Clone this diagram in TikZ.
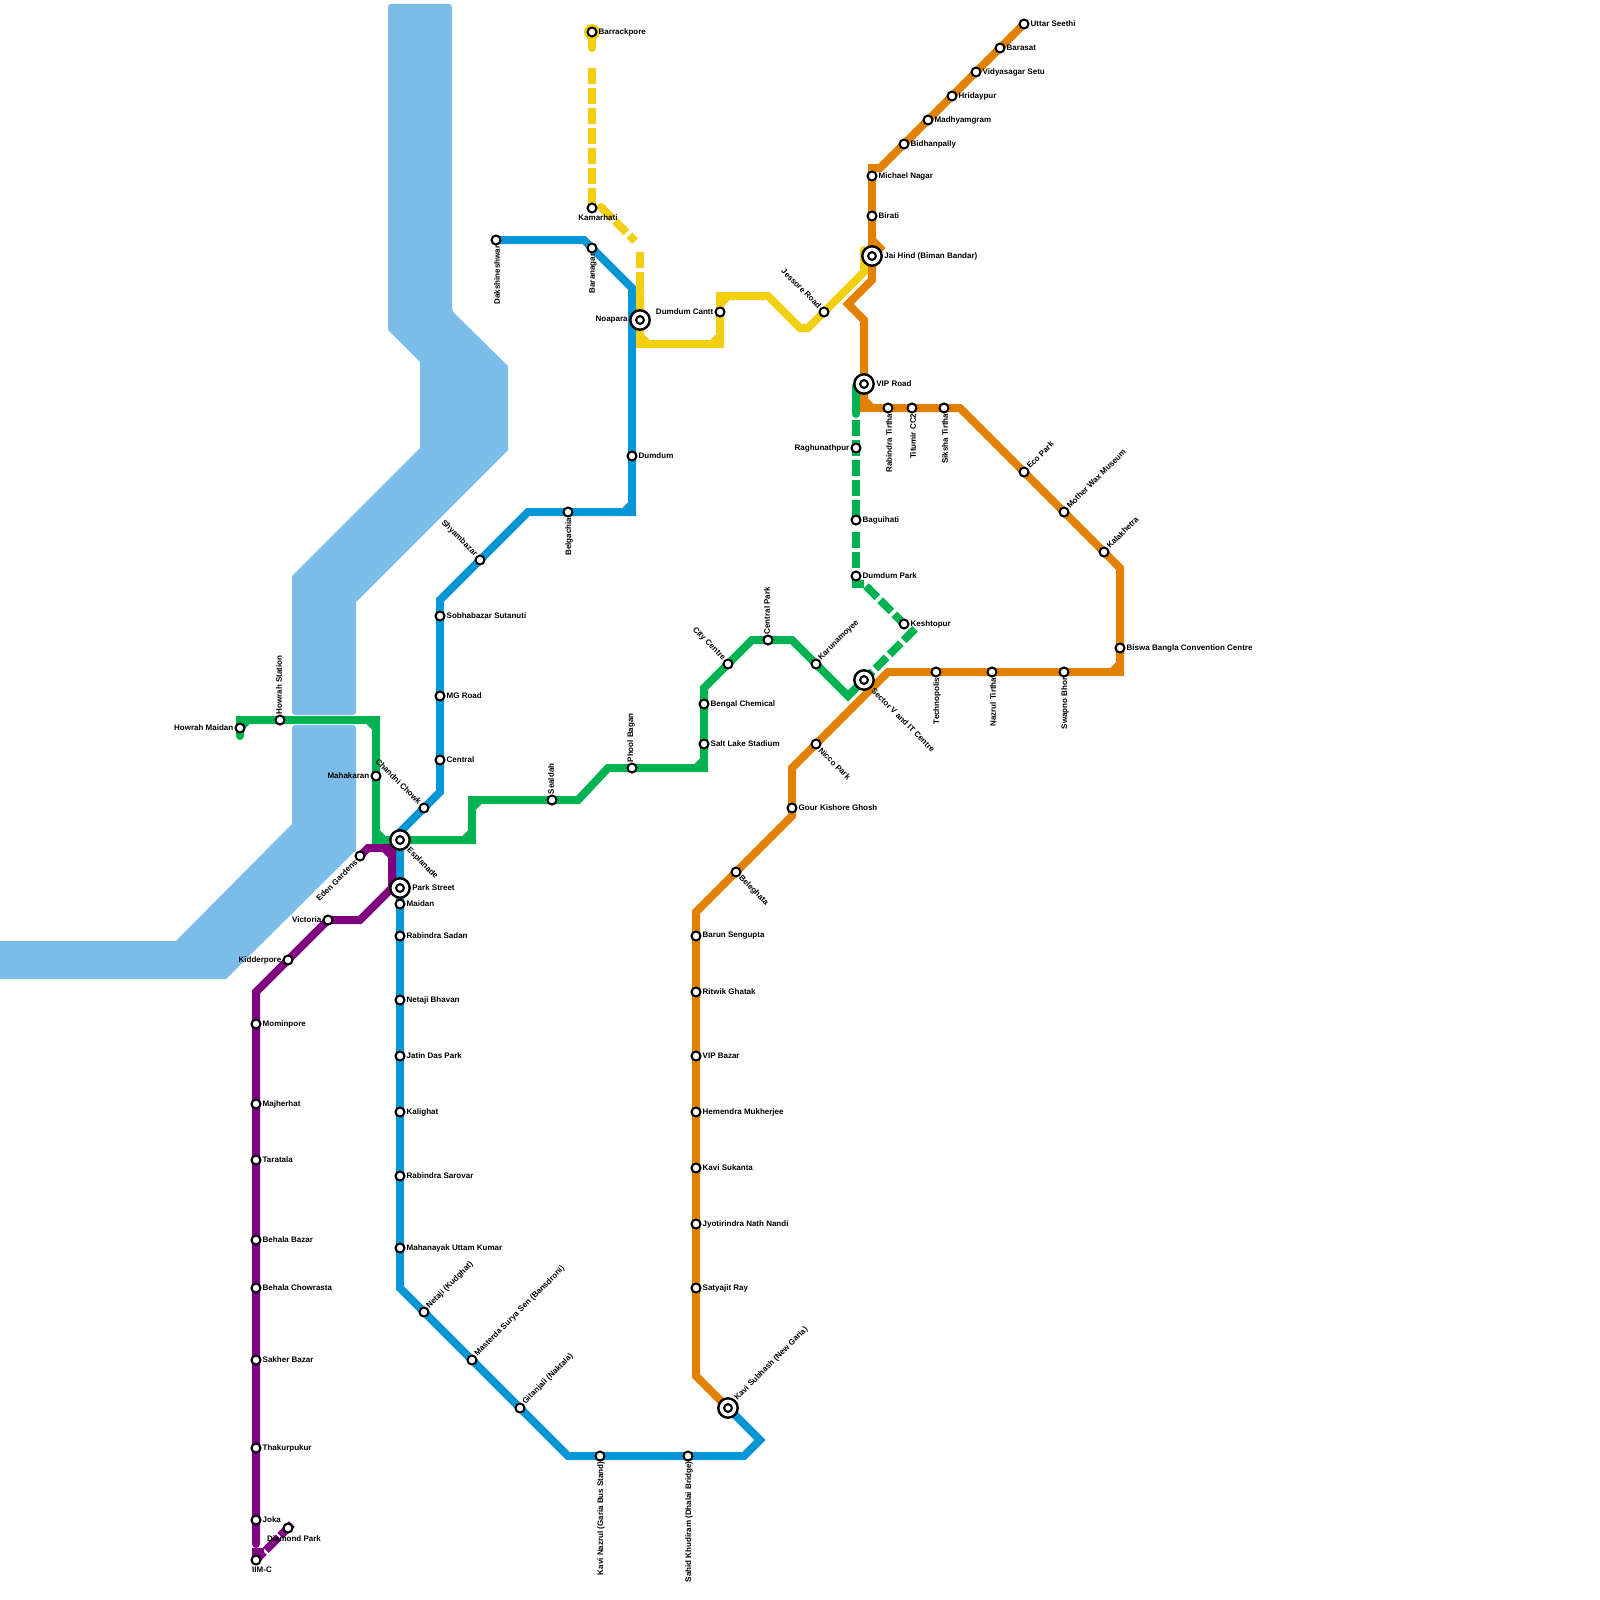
\documentclass[tikz,border=0pt]{standalone}
\usepackage{fontspec}
\setmainfont{Liberation Sans}
\usetikzlibrary{backgrounds}
\definecolor{rivercol}{HTML}{7BBDE8}
\definecolor{bluecol}{HTML}{0896D7}
\definecolor{greencol}{HTML}{00B251}
\definecolor{purplecol}{HTML}{800080}
\definecolor{orangecol}{HTML}{E08200}
\definecolor{yellowcol}{HTML}{F2CF12}
\tikzset{
  stn/.style={circle,draw=black,fill=white,line width=2pt,minimum size=9pt,inner sep=0pt},
  ichange/.style={circle,draw=black,fill=white,line width=2.4pt,minimum size=19.4pt,outer sep=1.5pt,inner sep=0pt,
    path picture={\draw[line width=2pt] (path picture bounding box.center) circle (3.9);}},
  lab/.style={font=\fontsize{8}{9}\selectfont\bfseries,inner sep=0pt,label distance=1pt},
  lr/.style={label={[lab,anchor=west]right:#1}},
  ll/.style={label={[lab,anchor=east]left:#1}},
  lb/.style={label={[lab,rotate=90,anchor=east]below:#1}},
  la/.style={label={[lab,rotate=90,anchor=west]above:#1}},
  lne/.style={label={[lab,rotate=45,anchor=west]45:#1}},
  lnw/.style={label={[lab,rotate=-45,anchor=east]135:#1}},
  lse/.style={label={[lab,rotate=-45,anchor=west]-45:#1}},
  lsw/.style={label={[lab,rotate=45,anchor=east]225:#1}},
  line/.style={line width=8pt,line cap=round},
  gappy/.style={line width=8pt,line cap=butt,dash pattern=on 16pt off 4pt},
}
\begin{document}
\begin{tikzpicture}[x=1pt,y=-1pt]
  \useasboundingbox (0,0) rectangle (1600,1600);
  % blue line
  \node[stn,lb=Dakshineshwar] (Dak) at (496,240) {};
  \node[stn,lb=Baranagar] (Bar) at (592,248) {};
  \node[ichange,ll=Noapara] (Noa) at (640,320) {};
  \node[stn,lr=Dumdum] (Dum) at (632,456) {};
  \node[stn,lb=Belgachia] (Bel) at (568,512) {};
  \node[stn,lnw=Shyambazar] (Shy) at (480,560) {};
  \node[stn,lr=Sobhabazar Sutanuti] (Sob) at (440,616) {};
  \node[stn,lr=MG Road] (MGR) at (440,696) {};
  \node[stn,lr=Central] (Cen) at (440,760) {};
  \node[stn,lnw=Chandni Chowk] (Cha) at (424,808) {};
  \node[ichange,lse=Esplanade] (Esp) at (400,840) {};
  \node[ichange,lr=Park Street] (Par) at (400,888) {};
  \node[stn,lr=Maidan] (Mai) at (400,904) {};
  \node[stn,lr=Rabindra Sadan] (RSa) at (400,936) {};
  \node[stn,lr=Netaji Bhavan] (NBh) at (400,1000) {};
  \node[stn,lr=Jatin Das Park] (Jat) at (400,1056) {};
  \node[stn,lr=Kalighat] (Kal) at (400,1112) {};
  \node[stn,lr=Rabindra Sarovar] (RSr) at (400,1176) {};
  \node[stn,lr=Mahanayak Uttam Kumar] (Mah) at (400,1248) {};
  \node[stn,lne=Netaji (Kudghat)] (Net) at (424,1312) {};
  \node[stn,lne=Masterda Surya Sen (Bansdroni)] (Mas) at (472,1360) {};
  \node[stn,lne=Gitanjali (Naktala)] (Git) at (520,1408) {};
  \node[stn,lb=Kavi Nazrul (Garia Bus Stand)] (KNa) at (600,1456) {};
  \node[stn,lb=Sahid Khudiram (Dhalai Bridge)] (Sah) at (688,1456) {};
  \node[ichange,lne=Kavi Subhash (New Garia)] (KSu) at (728,1408) {};
  % yellow line
  \node[stn,lr=Barrackpore] (Brk) at (592,32) {};
  \node[stn,label={[lab,anchor=north,xshift=6pt]below:Kamarhati}] (Kam) at (592,208) {};
  \node[stn,ll=Dumdum Cantt] (DCa) at (720,312) {};
  \node[stn,lnw=Jessore Road] (Jes) at (824,312) {};
  % green line
  \node[stn,ll=Howrah Maidan] (HMa) at (240,728) {};
  \node[stn,la=Howrah Station] (HSt) at (280,720) {};
  \node[stn,ll=Mahakaran] (Mhk) at (376,776) {};
  \node[stn,la=Sealdah] (Sea) at (552,800) {};
  \node[stn,la=Phool Bagan] (Pho) at (632,768) {};
  \node[stn,lr=Salt Lake Stadium] (Sal) at (704,744) {};
  \node[stn,lr=Bengal Chemical] (Ben) at (704,704) {};
  \node[stn,lnw=City Centre] (Cit) at (728,664) {};
  \node[stn,la=Central Park] (CPa) at (768,640) {};
  \node[stn,lne=Karunamoyee] (Kar) at (816,664) {};
  \node[ichange,label={[lab,rotate=-45,anchor=west,xshift=1pt]-45:Sector V and IT Centre}] (Sec) at (864,680) {};
  \node[stn,lr=Keshtopur] (Kes) at (904,624) {};
  \node[stn,lr=Dumdum Park] (DPa) at (856,576) {};
  \node[stn,lr=Baguihati] (Bag) at (856,520) {};
  \node[stn,ll=Raghunathpur] (Rag) at (856,448) {};
  \node[ichange,lr=VIP Road] (VIP) at (864,384) {};
  % orange line
  \node[stn,lr=Uttar Seethi] (Utt) at (1024,24) {};
  \node[stn,lr=Barasat] (Bas) at (1000,48) {};
  \node[stn,lr=Vidyasagar Setu] (Vid) at (976,72) {};
  \node[stn,lr=Hridaypur] (Hri) at (952,96) {};
  \node[stn,lr=Madhyamgram] (Mad) at (928,120) {};
  \node[stn,lr=Bidhanpally] (Bid) at (904,144) {};
  \node[stn,lr=Michael Nagar] (Mic) at (872,176) {};
  \node[stn,lr=Birati] (Bir) at (872,216) {};
  \node[ichange,lr=Jai Hind (Biman Bandar)] (Jai) at (872,256) {};
  \node[stn,lb=Rabindra Tirtha] (RTi) at (888,408) {};
  \node[stn,lb=Titumir CC2] (Tit) at (912,408) {};
  \node[stn,lb=Siksha Tirtha] (Sik) at (944,408) {};
  \node[stn,lne=Eco Park] (Eco) at (1024,472) {};
  \node[stn,lne=Mother Wax Museum] (Mot) at (1064,512) {};
  \node[stn,lne=Kalakhetra] (Kak) at (1104,552) {};
  \node[stn,lr=Biswa Bangla Convention Centre] (Bis) at (1120,648) {};
  \node[stn,lb=Swapno Bhor] (Swa) at (1064,672) {};
  \node[stn,lb=Nazrul Tirtha] (NTi) at (992,672) {};
  \node[stn,lb=Technopolis] (Tec) at (936,672) {};
  \node[stn,lse=Nicco Park] (Nic) at (816,744) {};
  \node[stn,lr=Gour Kishore Ghosh] (Gou) at (792,808) {};
  \node[stn,lse=Beleghata] (Blg) at (736,872) {};
  \node[stn,lr=Barun Sengupta] (Brn) at (696,936) {};
  \node[stn,lr=Ritwik Ghatak] (Rit) at (696,992) {};
  \node[stn,lr=VIP Bazar] (VBa) at (696,1056) {};
  \node[stn,lr=Hemendra Mukherjee] (Hem) at (696,1112) {};
  \node[stn,lr=Kavi Sukanta] (KSk) at (696,1168) {};
  \node[stn,lr=Jyotirindra Nath Nandi] (Jyo) at (696,1224) {};
  \node[stn,lr=Satyajit Ray] (Sat) at (696,1288) {};
  % purple line
  \node[stn,lsw=Eden Gardens] (Ede) at (360,856) {};
  \node[stn,ll=Victoria] (Vic) at (328,920) {};
  \node[stn,ll=Kidderpore] (Kid) at (288,960) {};
  \node[stn,lr=Mominpore] (Mom) at (256,1024) {};
  \node[stn,lr=Majherhat] (Maj) at (256,1104) {};
  \node[stn,lr=Taratala] (Tar) at (256,1160) {};
  \node[stn,lr=Behala Bazar] (BBa) at (256,1240) {};
  \node[stn,lr=Behala Chowrasta] (BCh) at (256,1288) {};
  \node[stn,lr=Sakher Bazar] (Sak) at (256,1360) {};
  \node[stn,lr=Thakurpukur] (Tha) at (256,1448) {};
  \node[stn,lr=Joka] (Jok) at (256,1520) {};
  \node[stn,label={[lab,anchor=north,xshift=6pt,yshift=-1pt]below:Diamond Park}] (Dia) at (288,1528) {};
  \node[stn,label={[lab,anchor=north,xshift=6pt]below:IIM-C}] (IIM) at (256,1560) {};
  \begin{scope}[on background layer]
    \fill[rivercol] (452,311) -- (508,366) -- (508,450) -- (356,602) [rounded corners=3pt] -- (356,715) -- (292,715) [sharp corners] -- (292,576) -- (420,448) -- (420,362) -- (388,330) [rounded corners=3pt] -- (388,4) -- (452,4) -- cycle;
    \fill[rivercol] (292,824) [rounded corners=3pt] -- (292,725) -- (356,725) [sharp corners] -- (356,850) -- (226,979) -- (0,979) -- (0,941) -- (176,941) -- cycle;
    \draw[line,bluecol] (Dak.center) -- (584,240) -- (Bar.center) -- (632,288) -- (Dum.center) -- (632,512) -- (Bel.center) -- (528,512) -- (Shy.center) -- (440,600) -- (Sob.center) -- (MGR.center) -- (Cen.center) -- (440,792) -- (Cha.center) -- (400,832) -- (Esp.center) -- (Par.center) -- (Mai.center) -- (RSa.center) -- (NBh.center) -- (Jat.center) -- (Kal.center) -- (RSr.center) -- (Mah.center) -- (400,1288) -- (Net.center) -- (Mas.center) -- (Git.center) -- (568,1456) -- (KNa.center) -- (Sah.center) -- (744,1456) -- (760,1440) -- (KSu.center);
    \draw[line,bluecol] (624,512) -- (632,504);
    \fill[yellowcol] (Brk) circle (8);
    \draw[line,yellowcol] (Brk.center) -- (592,48);
    \draw[gappy,yellowcol] (592,68) -- (Kam.center);
    \draw[gappy,yellowcol] (601,207) -- (635,241);
    \draw[line,yellowcol] (601,207) -- (604,210);
    \draw[gappy,yellowcol] (640,252) -- (640,288);
    \draw[line,yellowcol] (640,290) -- (Noa.center) -- (640,344) -- (720,344) -- (DCa.center) -- (720,296) -- (768,296) -- (800,328) -- (808,328) -- (Jes.center) -- (864,272) -- (864,250);
    \draw[line,yellowcol] (640,336) -- (648,344) (712,344) -- (720,336) (720,304) -- (728,296);
    \draw[line,greencol] (HMa.center) -- (240,736) (HMa.center) -- (240,720) -- (HSt.center) -- (376,720) -- (Mhk.center) -- (376,840) -- (Esp.center) -- (472,840) -- (472,800) -- (Sea.center) -- (578,800) -- (608,768) -- (Pho.center) -- (704,768) -- (Sal.center) -- (Ben.center) -- (704,688) -- (Cit.center) -- (752,640) -- (CPa.center) -- (792,640) -- (Kar.center) -- (848,696) -- (Sec.center);
    \draw[line,greencol] (240,728) -- (248,720) (368,720) -- (376,728) (376,832) -- (384,840) (464,840) -- (472,832) (472,808) -- (480,800) (696,768) -- (704,760);
    \draw[line,greencol] (856,386) -- (856,414);
    \draw[gappy,greencol] (856,420) -- (Bag.center);
    \draw[gappy,greencol] (856,532) -- (DPa.center);
    \draw[line width=8pt,greencol] (DPa.center) -- (856,584) -- (864,584);
    \draw[gappy,greencol] (866,586) -- (Kes.center);
    \draw[gappy,greencol] (915,629) -- (Sec.center);
    \draw[line,orangecol] (Utt.center) -- (Bas.center) -- (Vid.center) -- (Hri.center) -- (Mad.center) -- (Bid.center) -- (880,168) -- (872,168) -- (Mic.center) -- (Bir.center) -- (Jai.center) -- (872,280) -- (848,304) -- (864,320) -- (VIP.center) -- (864,408) -- (RTi.center) -- (Tit.center) -- (Sik.center) -- (960,408) -- (Eco.center) -- (Mot.center) -- (Kak.center) -- (1120,568) -- (Bis.center) -- (1120,672) -- (Swa.center) -- (NTi.center) -- (Tec.center) -- (888,672) -- (Nic.center) -- (792,768) -- (Gou.center) -- (792,816) -- (Blg.center) -- (696,912) -- (Brn.center) -- (Rit.center) -- (VBa.center) -- (Hem.center) -- (KSk.center) -- (Jyo.center) -- (Sat.center) -- (696,1376) -- (KSu.center);
    \draw[line,orangecol] (872,240) -- (880,248) -- (Jai.center) (864,400) -- (872,408) (1112,672) -- (1120,664);
    \draw[line,purplecol] (Par.center) -- (392,888) -- (392,848) -- (368,848) -- (Ede.center) (384,848) -- (392,856);
    \draw[line,purplecol] (392,888) -- (360,920) -- (Vic.center) -- (Kid.center) -- (256,992) -- (Mom.center) -- (Maj.center) -- (Tar.center) -- (BBa.center) -- (BCh.center) -- (Sak.center) -- (Tha.center) -- (Jok.center) -- (256,1544);
    \draw[line width=8pt,purplecol] (IIM.center) -- (256,1552) -- (264,1552) (IIM.center) -- (264,1552);
    \draw[line width=8pt,purplecol,dash pattern=on 18pt off 2pt] (266,1550) -- (292,1524);
  \end{scope}
\end{tikzpicture}
\end{document}
